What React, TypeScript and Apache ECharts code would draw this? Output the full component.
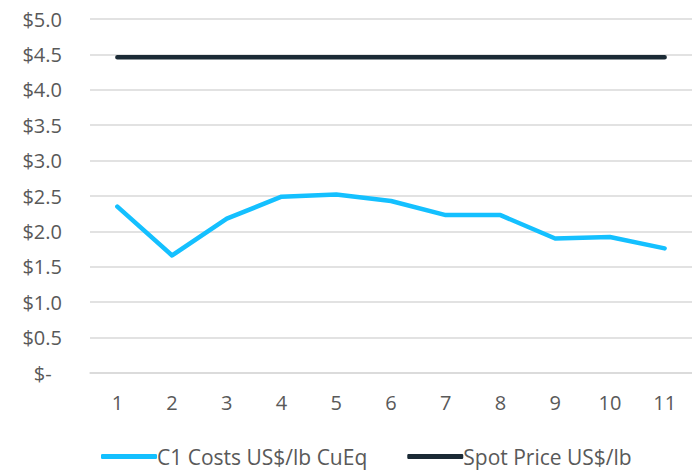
import React, { useEffect, useRef } from "react";
import * as echarts from "echarts";

const categories = ["1", "2", "3", "4", "5", "6", "7", "8", "9", "10", "11"];
const c1Costs = [2.35, 1.66, 2.18, 2.49, 2.52, 2.43, 2.23, 2.23, 1.9, 1.92, 1.76];
const spotPrice = [4.46, 4.46, 4.46, 4.46, 4.46, 4.46, 4.46, 4.46, 4.46, 4.46, 4.46];
const seriesNames = ["C1 Costs US$/lb CuEq", "Spot Price US$/lb"];

export default function App() {
  const ref = useRef<HTMLDivElement>(null);
  useEffect(() => {
    if (!ref.current) return;
    const chart = echarts.init(ref.current, null, { renderer: "svg" });
    const font = "Open Sans";
    chart.setOption({
      animation: false,
      grid: { left: 90, top: 19, width: 613, bottom: 99, containLabel: false },
      legend: {
        left: 101,
        top: 446,
        padding: 0,
        itemWidth: 56,
        itemHeight: 5,
        itemGap: 40,
        icon: "roundRect",
        textStyle: { fontFamily: font, fontSize: 21, color: "#595959", padding: [0, 0, 0, -5] },
        data: seriesNames,
      },
      xAxis: {
        type: "category",
        data: categories,
        boundaryGap: true,
        axisLine: { show: true, lineStyle: { color: "#D9D9D9", width: 1.5 } },
        axisTick: { show: false },
        axisLabel: { fontFamily: font, fontSize: 20, color: "#595959", margin: 19 },
      },
      yAxis: {
        type: "value",
        min: 0,
        max: 5,
        interval: 0.5,
        axisLine: { show: false },
        axisTick: { show: false },
        splitLine: { lineStyle: { color: "#D9D9D9", width: 1.5 } },
        axisLabel: {
          fontFamily: font,
          fontSize: 20,
          color: "#595959",
          margin: 28,
          formatter: (v: number) => (v === 0 ? "$-  " : "$" + v.toFixed(1)),
        },
      },
      series: [
        {
          name: seriesNames[0],
          type: "line",
          data: c1Costs,
          symbol: "none",
          lineStyle: { color: "#14C0FF", width: 4.5, cap: "round", join: "round" },
          itemStyle: { color: "#14C0FF" },
        },
        {
          name: seriesNames[1],
          type: "line",
          data: spotPrice,
          symbol: "none",
          lineStyle: { color: "#1B2A35", width: 4.5, cap: "round" },
          itemStyle: { color: "#1B2A35" },
        },
      ],
    });
    return () => chart.dispose();
  }, []);
  return <div ref={ref} style={{ width: 692, height: 472, position: "absolute", left: 0, top: 0 }} />;
}
